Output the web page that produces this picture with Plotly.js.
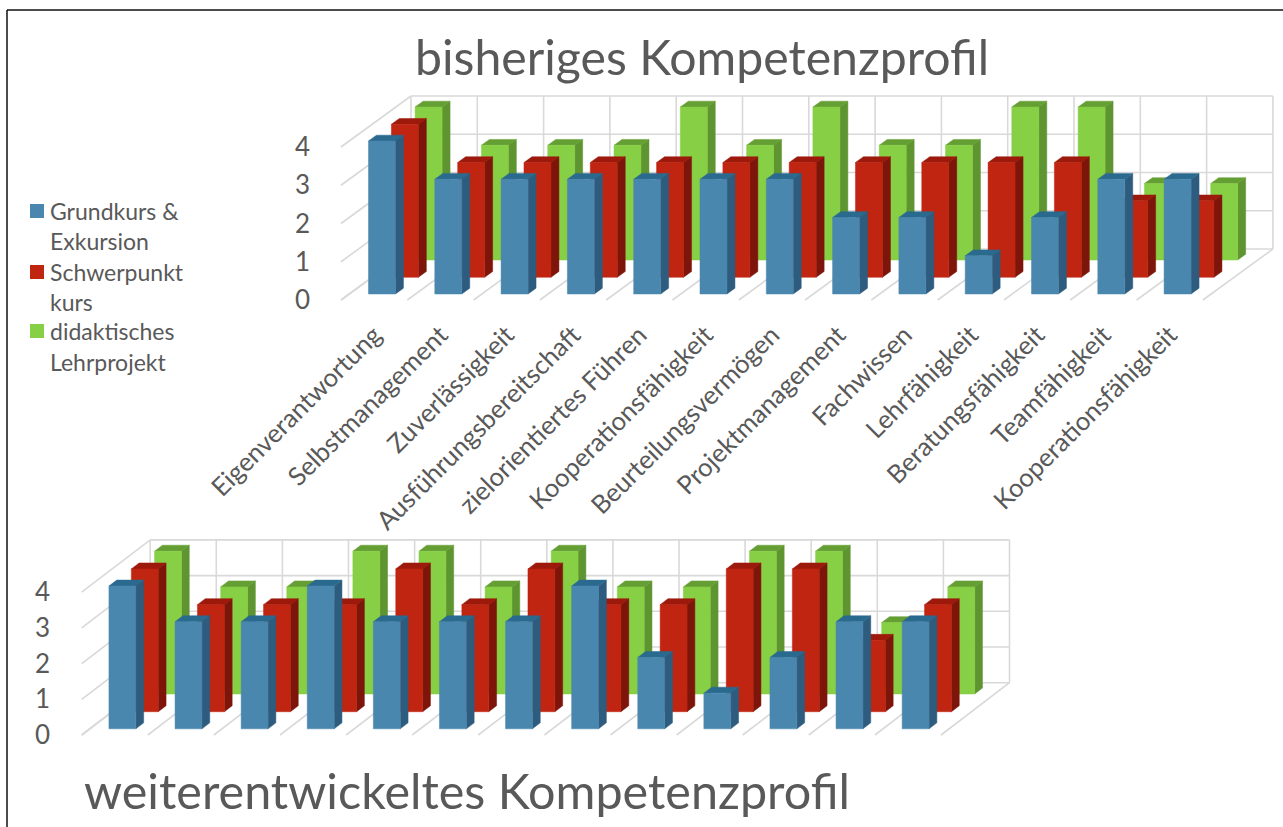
<!DOCTYPE html>
<html><head><meta charset="utf-8">
<script src="https://cdn.plot.ly/plotly-3.0.1.min.js"></script>
<style>html,body{margin:0;padding:0;background:#fff;overflow:hidden}</style>
</head><body><div id="chart" style="width:1283px;height:827px"></div>
<script>
const categories = ["Eigenverantwortung","Selbstmanagement","Zuverlässigkeit","Ausführungsbereitschaft","zielorientiertes Führen","Kooperationsfähigkeit","Beurteilungsvermögen","Projektmanagement","Fachwissen","Lehrfähigkeit","Beratungsfähigkeit","Teamfähigkeit","Kooperationsfähigkeit"];
const seriesNames = ["Grundkurs & Exkursion","Schwerpunktkurs","didaktisches Lehrprojekt"];
const topGrundkurs    = [4,3,3,3,3,3,3,2,2,1,2,3,3];
const topSchwerpunkt  = [4,3,3,3,3,3,3,3,3,3,3,2,2];
const topDidaktisch   = [4,3,3,3,4,3,4,3,3,4,4,2,2];
const lowGrundkurs    = [4,3,3,4,3,3,3,4,2,1,2,3,3];
const lowSchwerpunkt  = [4,3,3,3,4,3,4,3,3,4,4,2,3];
const lowDidaktisch   = [4,3,3,4,4,3,4,3,3,4,4,2,3];
const valueTicks = [0,1,2,3,4];

const W = 1283, H = 827;
const INK = '#595959', GRID = '#d9d9d9';
const FONT = 'Lato, "Open Sans", sans-serif';
const colors = [
  {front:'#4a87ae', side:'#2e5c7f', top:'#2b6a8f'},
  {front:'#bf2511', side:'#7e150b', top:'#9d190c'},
  {front:'#87cf44', side:'#5e9531', top:'#659f34'}
];
const frontDepth = [0.118,0.445,0.784], barDepth = 0.114, barLeft = 0.29, barWidth = 0.407;
const charts = [
  {x0:341, y0:300, pitch:66.3, unit:38.25, depthPx:[70,51],  left:311, right:1281, top:88,  bottom:306,
   series:[topGrundkurs,topSchwerpunkt,topDidaktisch], labels:true},
  {x0:81.7,y0:735, pitch:66.1, unit:35.7,  depthPx:[68.5,52.3], left:51, right:1025, top:534, bottom:741,
   series:[lowGrundkurs,lowSchwerpunkt,lowDidaktisch], labels:false}
];

const traces = [];
const layout = {
  width:W, height:H, margin:{l:0,r:0,t:0,b:0}, paper_bgcolor:'#fff', plot_bgcolor:'rgba(0,0,0,0)',
  showlegend:false, font:{family:FONT,color:INK},
  title:{text:'bisheriges Kompetenzprofil', x:415/W, xanchor:'left', y:1-58/H, yanchor:'middle', font:{family:FONT,size:48.2,color:INK}},
  annotations:[], shapes:[]
};

charts.forEach((c,ci)=>{
  const sfx = ci===0?'':'2';
  const dx = c.depthPx[0]/c.pitch, dy = c.depthPx[1]/c.unit;
  const P = (x,d,v)=>[x+d*dx, v+d*dy];
  const xa='x'+sfx, ya='y'+sfx;
  const n = categories.length, vmax = valueTicks[valueTicks.length-1];
  const gx=[],gy=[];
  const seg=(a,b)=>{gx.push(a[0],b[0],null);gy.push(a[1],b[1],null);};
  valueTicks.forEach(v=>{ seg(P(0,0,v),P(0,1,v)); seg(P(0,1,v),P(n,1,v)); });
  categories.concat(['']).forEach((_,i)=>{ seg(P(i,1,0),P(i,1,vmax)); seg(P(i,0,0),P(i,1,0)); });
  traces.push({type:'scatter',mode:'lines',x:gx,y:gy,xaxis:xa,yaxis:ya,line:{color:GRID,width:1.6},hoverinfo:'skip',showlegend:false});
  [2,1,0].forEach(s=>{
    const vals=c.series[s], d0=frontDepth[s], d1=d0+barDepth;
    const F={x:[],y:[]},S={x:[],y:[]},T={x:[],y:[]};
    const add=(o,pts)=>{pts.concat([pts[0]]).forEach(p=>{o.x.push(p[0]);o.y.push(p[1]);});o.x.push(null);o.y.push(null);};
    vals.forEach((v,i)=>{
      const l=i+barLeft,r=l+barWidth;
      add(F,[P(l,d0,0),P(r,d0,0),P(r,d0,v),P(l,d0,v)]);
      add(S,[P(r,d0,0),P(r,d1,0),P(r,d1,v),P(r,d0,v)]);
      add(T,[P(l,d0,v),P(r,d0,v),P(r,d1,v),P(l,d1,v)]);
    });
    [[S,'side'],[T,'top'],[F,'front']].forEach(([o,k])=>{
      traces.push({type:'scatter',mode:'lines',x:o.x,y:o.y,xaxis:xa,yaxis:ya,fill:'toself',fillcolor:colors[s][k],
        line:{color:colors[s][k],width:0.5},name:seriesNames[s],hoverinfo:'skip',showlegend:false});
    });
  });
  layout['xaxis'+sfx]={
    anchor:ya, domain:[c.left/W,c.right/W], range:[(c.left-c.x0)/c.pitch,(c.right-c.x0)/c.pitch],
    showgrid:false, zeroline:false, showline:false, ticks:'', ticklabelstandoff:8,
    tickmode:'array', tickvals:c.labels?categories.map((_,i)=>i+0.5):[], ticktext:c.labels?categories:[],
    tickangle:-45, tickfont:{family:FONT,size:25.6,color:INK}, automargin:false, fixedrange:true
  };
  layout['yaxis'+sfx]={
    anchor:xa, domain:[1-c.bottom/H,1-c.top/H], range:[(c.y0-c.bottom)/c.unit,(c.y0-c.top)/c.unit],
    showgrid:false, zeroline:false, showline:false, ticks:'',
    tickmode:'array', tickvals:valueTicks, ticktext:valueTicks.map(String),
    tickfont:{family:FONT,size:26,color:INK}, automargin:false, fixedrange:true
  };
});

layout.annotations.push({text:'weiterentwickeltes Kompetenzprofil',xref:'paper',yref:'paper',x:82/W,y:1-790/H,xanchor:'left',yanchor:'middle',showarrow:false,font:{family:FONT,size:48.5,color:INK}});
const legendLines=[['Grundkurs &',211,0],['Exkursion',241,null],['Schwerpunkt',272,1],['kurs',302,null],['didaktisches',331,2],['Lehrprojekt',362,null]];
legendLines.forEach(([t,y,s])=>{
  layout.annotations.push({text:t,xref:'paper',yref:'paper',x:48/W,y:1-y/H,xanchor:'left',yanchor:'middle',showarrow:false,font:{family:FONT,size:23,color:INK}});
  if(s!==null) layout.shapes.push({type:'rect',xref:'paper',yref:'paper',x0:30/W,x1:44/W,y0:1-(y+7)/H,y1:1-(y-7)/H,fillcolor:colors[s].front,line:{width:0}});
});
layout.shapes.push({type:'line',xref:'paper',yref:'paper',x0:7/W,x1:1,y0:1-10/H,y1:1-10/H,line:{color:'#111',width:1.5}});
layout.shapes.push({type:'line',xref:'paper',yref:'paper',x0:7/W,x1:7/W,y0:1-10/H,y1:0,line:{color:'#111',width:1.5}});

Plotly.newPlot('chart',traces,layout,{displayModeBar:false,staticPlot:true,responsive:false});
</script></body></html>
